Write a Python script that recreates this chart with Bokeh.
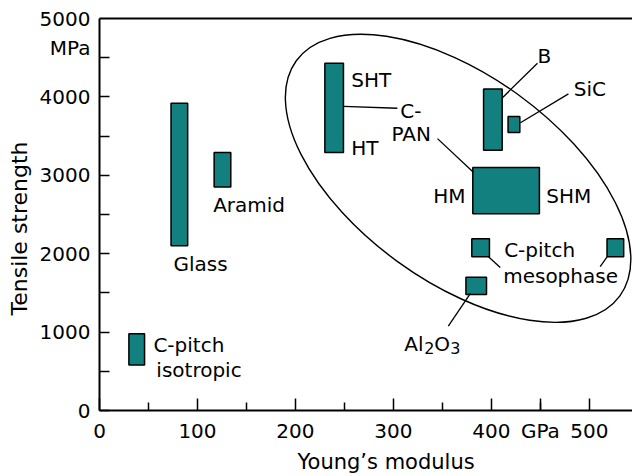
import math
from bokeh.plotting import figure
from bokeh.models import (ColumnDataSource, FixedTicker, LinearAxis, Range1d, Title)
from bokeh.core.properties import value
from bokeh.embed import file_html
from bokeh.resources import INLINE

FONT = "DejaVu Sans"

# ---- data (Young's modulus in GPa, tensile strength in MPa) ----
fibres = ["C-pitch isotropic", "Glass", "Aramid", "C-PAN HT/SHT", "C-PAN HM/SHM",
          "B", "SiC", "C-pitch mesophase (low)", "C-pitch mesophase (high)", "Al2O3"]
modulus_min = [30, 73, 117, 230, 381, 392, 417, 380, 518, 374]
modulus_max = [46, 90, 134, 249, 449, 411, 429, 398, 535, 395]
strength_min = [580, 2100, 2850, 3290, 2510, 3320, 3545, 1960, 1960, 1480]
strength_max = [980, 3920, 3290, 4430, 3100, 4100, 3750, 2190, 2190, 1700]

x_ticks = [0, 100, 200, 300, 400, 450, 500]
x_minor = [50, 150, 250, 350, 450]
x_tick_labels = {450: "GPa"}
y_label_ticks = [0, 1000, 2000, 3000, 4000, 5000, 4630]
y_tick_marks = [0, 500, 1000, 1500, 2000, 2500, 3000, 3500, 4000, 4500]
y_tick_labels = {4630: "MPa"}

# text labels (anchor in data coords, left aligned, alphabetic baseline)
lab_text = ["Glass", "Aramid", "C-pitch", "isotropic", "SHT", "HT", "C-", "PAN",
            "SHM", "B", "SiC", "C-pitch", "mesophase"]
lab_x = [75.5, 116, 55, 58, 257, 257, 307, 298, 456, 447, 484, 413, 412]
lab_y = [1865, 2623, 838, 522, 4214, 3353, 3826, 3531, 2733, 4522, 4100, 2050, 1721]

# right-aligned labels
rlab_text = ["HM"]
rlab_x = [373.5]
rlab_y = [2733]

# leader lines
lead_x0 = [249, 345, 411, 429.6, 397, 519, 378.6]
lead_y0 = [3880, 3468, 3987, 3670, 1962, 1975, 1494]
lead_x1 = [304, 381.6, 447, 478.6, 409, 511, 356]
lead_y1 = [3855, 3038, 4430, 4038, 1823, 1835, 1076]

# carbon fibre envelope (centre in data coords)
env_x = [366]
env_y = [2962]

TEAL = "#11807e"

p = figure(width=632, height=476, output_backend="svg", toolbar_location=None,
           x_range=Range1d(0, 544), y_range=Range1d(0, 5000),
           min_border_left=99, min_border_right=0, min_border_top=18,
           min_border_bottom=63, x_axis_location=None, y_axis_location=None)
p.outline_line_color = None
p.grid.visible = False
p.background_fill_color = "white"
p.border_fill_color = "white"

def style_axis(ax, ticks, minor, tick_in, minor_in, standoff):
    ax.ticker = FixedTicker(ticks=ticks, minor_ticks=minor)
    ax.axis_line_color = "black"
    ax.axis_line_width = 2
    ax.major_tick_in = tick_in
    ax.major_tick_out = 0
    ax.minor_tick_in = minor_in
    ax.minor_tick_out = 0
    ax.major_tick_line_width = 1.5
    ax.minor_tick_line_width = 1.5
    ax.major_tick_line_color = "black"
    ax.minor_tick_line_color = "black"
    ax.major_label_text_font = FONT
    ax.major_label_text_font_size = "20px"
    ax.major_label_text_color = "black"
    ax.major_label_standoff = standoff

xa = LinearAxis()
style_axis(xa, x_ticks, x_minor, 12, 8, 8)
xa.major_label_overrides = x_tick_labels
p.add_layout(xa, "below")

ya = LinearAxis()
style_axis(ya, y_label_ticks, y_tick_marks, 0, 10, 9)
ya.major_label_overrides = y_tick_labels
p.add_layout(ya, "left")

top = LinearAxis()
top.ticker = FixedTicker(ticks=[], minor_ticks=[])
top.axis_line_color = "black"
top.axis_line_width = 2
top.major_tick_in = 0
top.major_tick_out = 0
top.minor_tick_in = 0
top.minor_tick_out = 0
top.major_label_text_font_size = "0px"
top.major_label_standoff = 0
p.add_layout(top, "above")

src = ColumnDataSource(dict(name=fibres, left=modulus_min, right=modulus_max,
                            bottom=strength_min, top=strength_max))
p.quad(left="left", right="right", bottom="bottom", top="top", source=src,
       fill_color=TEAL, line_color="black", line_width=1.5)

p.segment(x0=lead_x0, y0=lead_y0, x1=lead_x1, y1=lead_y1,
          line_color="black", line_width=1.3)

p.ellipse(x=env_x, y=env_y, width=400, height=206, angle=-36 * math.pi / 180,
          width_units="screen", height_units="screen",
          fill_color=None, line_color="black", line_width=1.4)

p.text(x=lab_x, y=lab_y, text=lab_text, text_font=value(FONT),
       text_font_size="20px", text_align="left", text_baseline="alphabetic",
       text_color="black")
p.text(x=rlab_x, y=rlab_y, text=rlab_text, text_font=value(FONT),
       text_font_size="20px", text_align="right", text_baseline="alphabetic",
       text_color="black")

# Al2O3 with subscripts
al_x, al_y = 311, 847
p.text(x=[al_x], y=[al_y], text=["Al"], text_font=value(FONT), text_font_size="20px",
       text_baseline="alphabetic", text_color="black")
p.text(x=[al_x], y=[al_y], text=["2"], x_offset=20, y_offset=4, text_font=value(FONT),
       text_font_size="16px", text_baseline="alphabetic", text_color="black")
p.text(x=[al_x], y=[al_y], text=["O"], x_offset=30, text_font=value(FONT),
       text_font_size="20px", text_baseline="alphabetic", text_color="black")
p.text(x=[al_x], y=[al_y], text=["3"], x_offset=46, y_offset=4, text_font=value(FONT),
       text_font_size="16px", text_baseline="alphabetic", text_color="black")

# axis titles
p.add_layout(Title(text="Young\u2019s modulus", align="left", offset=198,
                   standoff=5, text_font=FONT, text_font_size="21px",
                   text_font_style="normal", text_color="black"), "below")
p.add_layout(Title(text="Tensile strength", align="left", offset=95,
                   standoff=9, text_font=FONT, text_font_size="22px",
                   text_font_style="normal", text_color="black"), "left")

open("out.html", "w").write(file_html(p, INLINE))
